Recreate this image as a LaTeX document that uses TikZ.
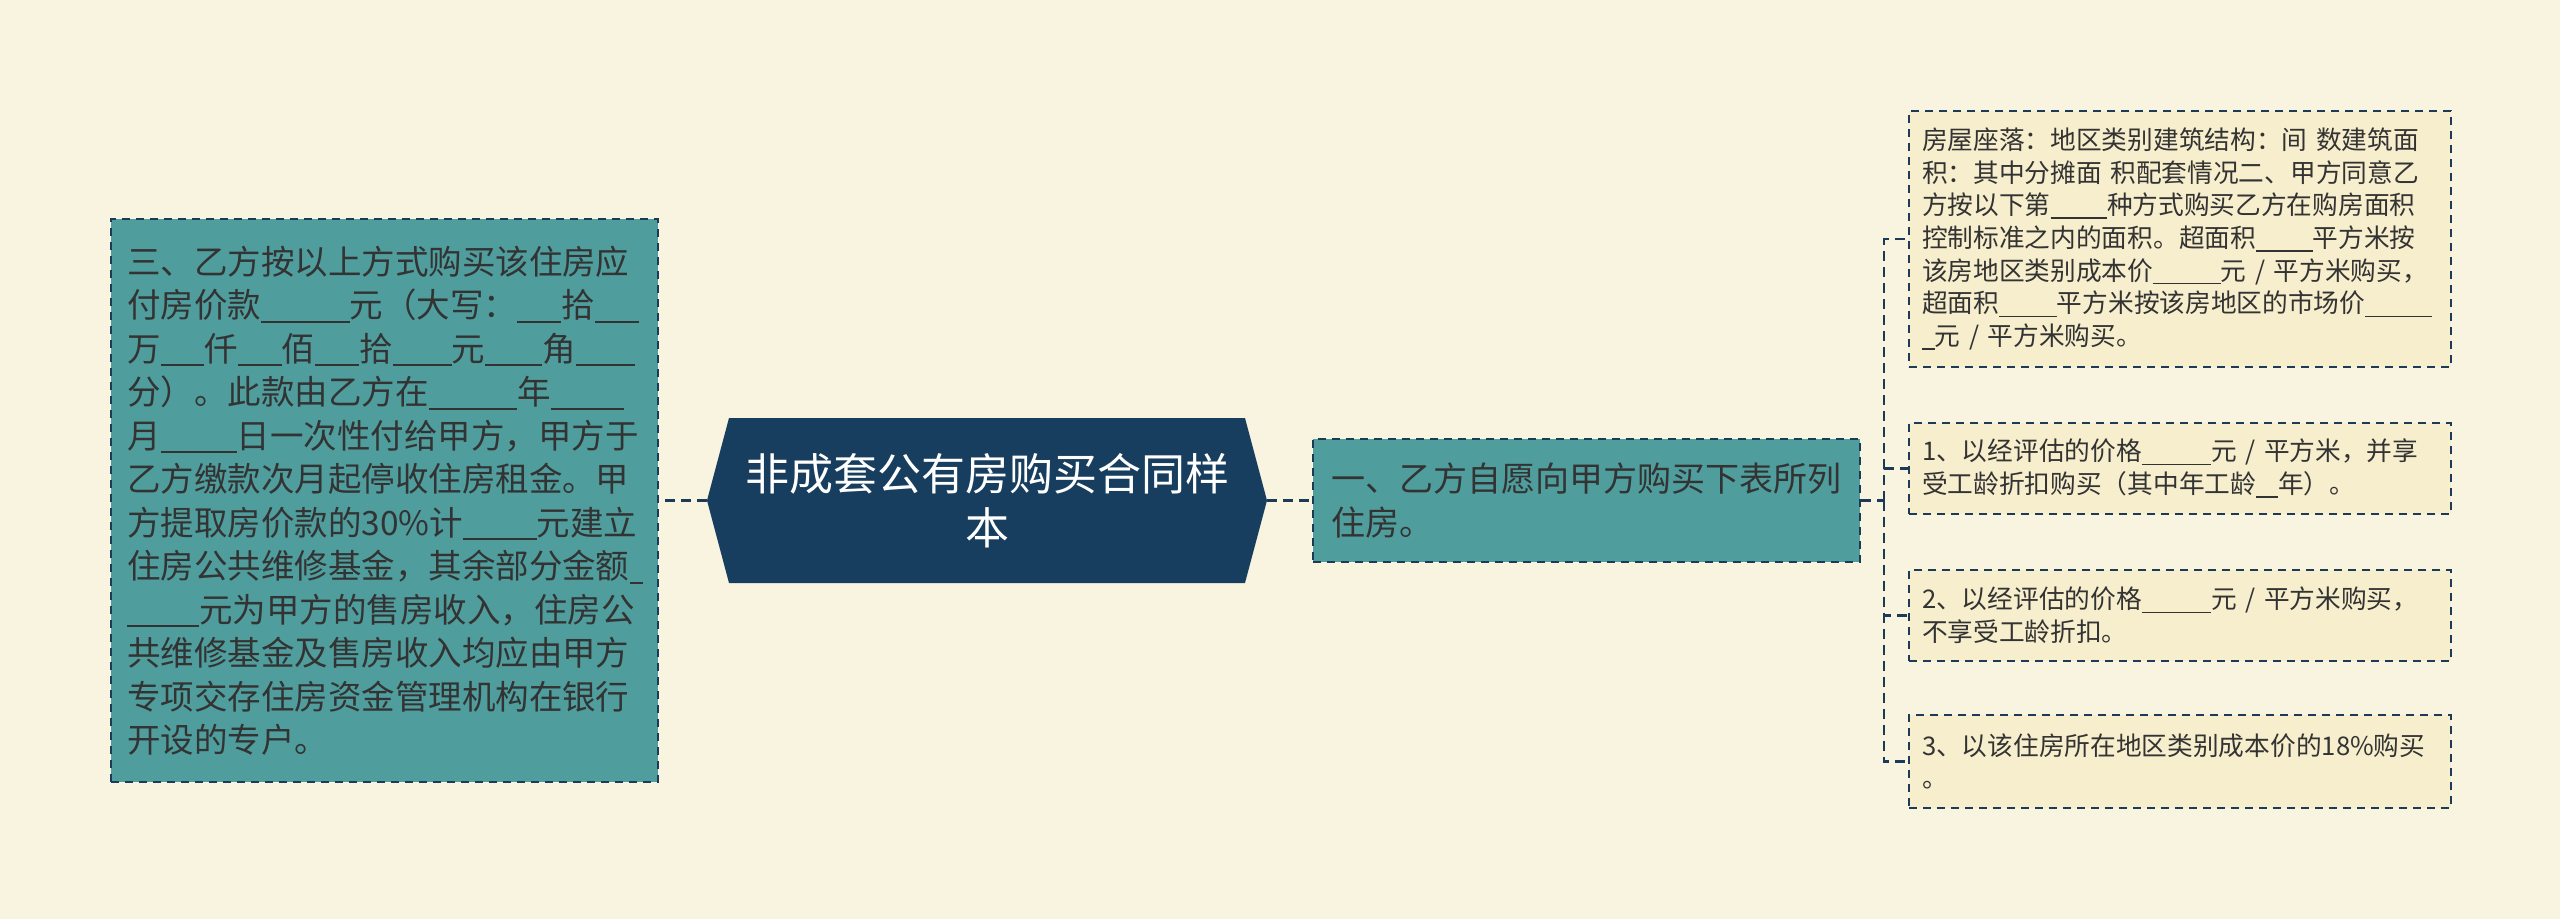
\documentclass[tikz,border=0pt]{standalone}
\usepackage{fontspec}
\newfontfamily\cjk{Noto Sans CJK SC}
\definecolor{bg}{HTML}{F9F4DF}
\definecolor{tealfill}{HTML}{4F9D9D}
\definecolor{navy}{HTML}{173E5E}
\definecolor{edge}{HTML}{1C3B57}
\definecolor{cream}{HTML}{F6EECD}
\definecolor{txt}{HTML}{333333}
\newcommand\bl[1]{\rule[-0.16em]{#1em}{0.06em}}
\begin{document}
\begin{tikzpicture}[x=1pt,y=-1pt,
  dashbox/.style={draw=edge, line width=2pt, dash pattern=on 8pt off 6pt, align=left, anchor=center, text=txt},
  tealbox/.style={dashbox, fill=tealfill, font=\cjk\fontsize{33.5}{43.5}\selectfont},
  creambox/.style={dashbox, fill=cream, font=\cjk\fontsize{25.7}{32.7}\selectfont, minimum width=542, text width=516, inner xsep=13},
  link/.style={draw=edge, line width=2.5pt, dash pattern=on 10pt off 6pt}]
\fill[bg] (0,0) rectangle (2560,919);
\useasboundingbox (0,0) rectangle (2560,919);
% title hexagon
\fill[navy] (707,500.5) -- (729,418) -- (1245,418) -- (1267,500.5) -- (1245,583) -- (729,583) -- cycle;
\node[font=\cjk\fontsize{44}{54}\selectfont, text=white, align=center, minimum width=560, minimum height=165, inner sep=0] (title) at (987,500.5) {非成套公有房购买合同样\\本};
% left box
\node[tealbox, minimum width=547, minimum height=563, text width=515, inner xsep=16] (left) at (384.5,500.5) {三、乙方按以上方式购买该住房应\\
付房价款\bl{2.65}元（大写：\bl{1.31}拾\bl{1.31}\\
万\bl{1.31}仟\bl{1.31}佰\bl{1.31}拾\bl{1.76}元\bl{1.7}角\bl{1.76}\\
分）。此款由乙方在\bl{2.65}年\bl{2.2}\\
月\bl{2.27}日一次性付给甲方，甲方于\\
乙方缴款次月起停收住房租金。甲\\
方提取房价款的30\%计\bl{2.2}元建立\\
住房公共维修基金，其余部分金额\bl{0.4}\\
\bl{2.15}元为甲方的售房收入，住房公\\
共维修基金及售房收入均应由甲方\\
专项交存住房资金管理机构在银行\\
开设的专户。};
% middle box
\node[tealbox, font=\cjk\fontsize{34}{44}\selectfont, minimum width=547, minimum height=123, text width=511, inner xsep=18] (mid) at (1586.5,500.5) {一、乙方自愿向甲方购买下表所列\\住房。};
% right boxes
\node[creambox, minimum height=256] (A) at (2180,239) {房屋座落：地区类别建筑结构：间 数建筑面\\
积：其中分摊面 积配套情况二、甲方同意乙\\
方按以下第\bl{2.2}种方式购买乙方在购房面积\\
控制标准之内的面积。超面积\bl{2.2}平方米按\\
该房地区类别成本价\bl{2.63}元 / 平方米购买，\\
超面积\bl{2.25}平方米按该房地区的市场价\bl{2.6}\\
\bl{0.5}元 / 平方米购买。};
\node[creambox, minimum height=91] (B) at (2180,468.5) {1、以经评估的价格\bl{2.7}元 / 平方米，并享\\受工龄折扣购买（其中年工龄\bl{0.86}年）。};
\node[creambox, minimum height=91] (C) at (2180,615.5) {2、以经评估的价格\bl{2.7}元 / 平方米购买，\\不享受工龄折扣。};
\node[creambox, minimum height=93] (D) at (2180,761.5) {3、以该住房所在地区类别成本价的18\%购买\\。};
% connectors
\draw[link] (title.west) -- (left.east);
\draw[link] (title.east) -- (mid.west);
\coordinate (j) at (1884,500.5);
\draw[link] (mid.east) -- (j);
\foreach \n in {A,B,C,D} \draw[link] (j) |- (\n.west);
\end{tikzpicture}
\end{document}
